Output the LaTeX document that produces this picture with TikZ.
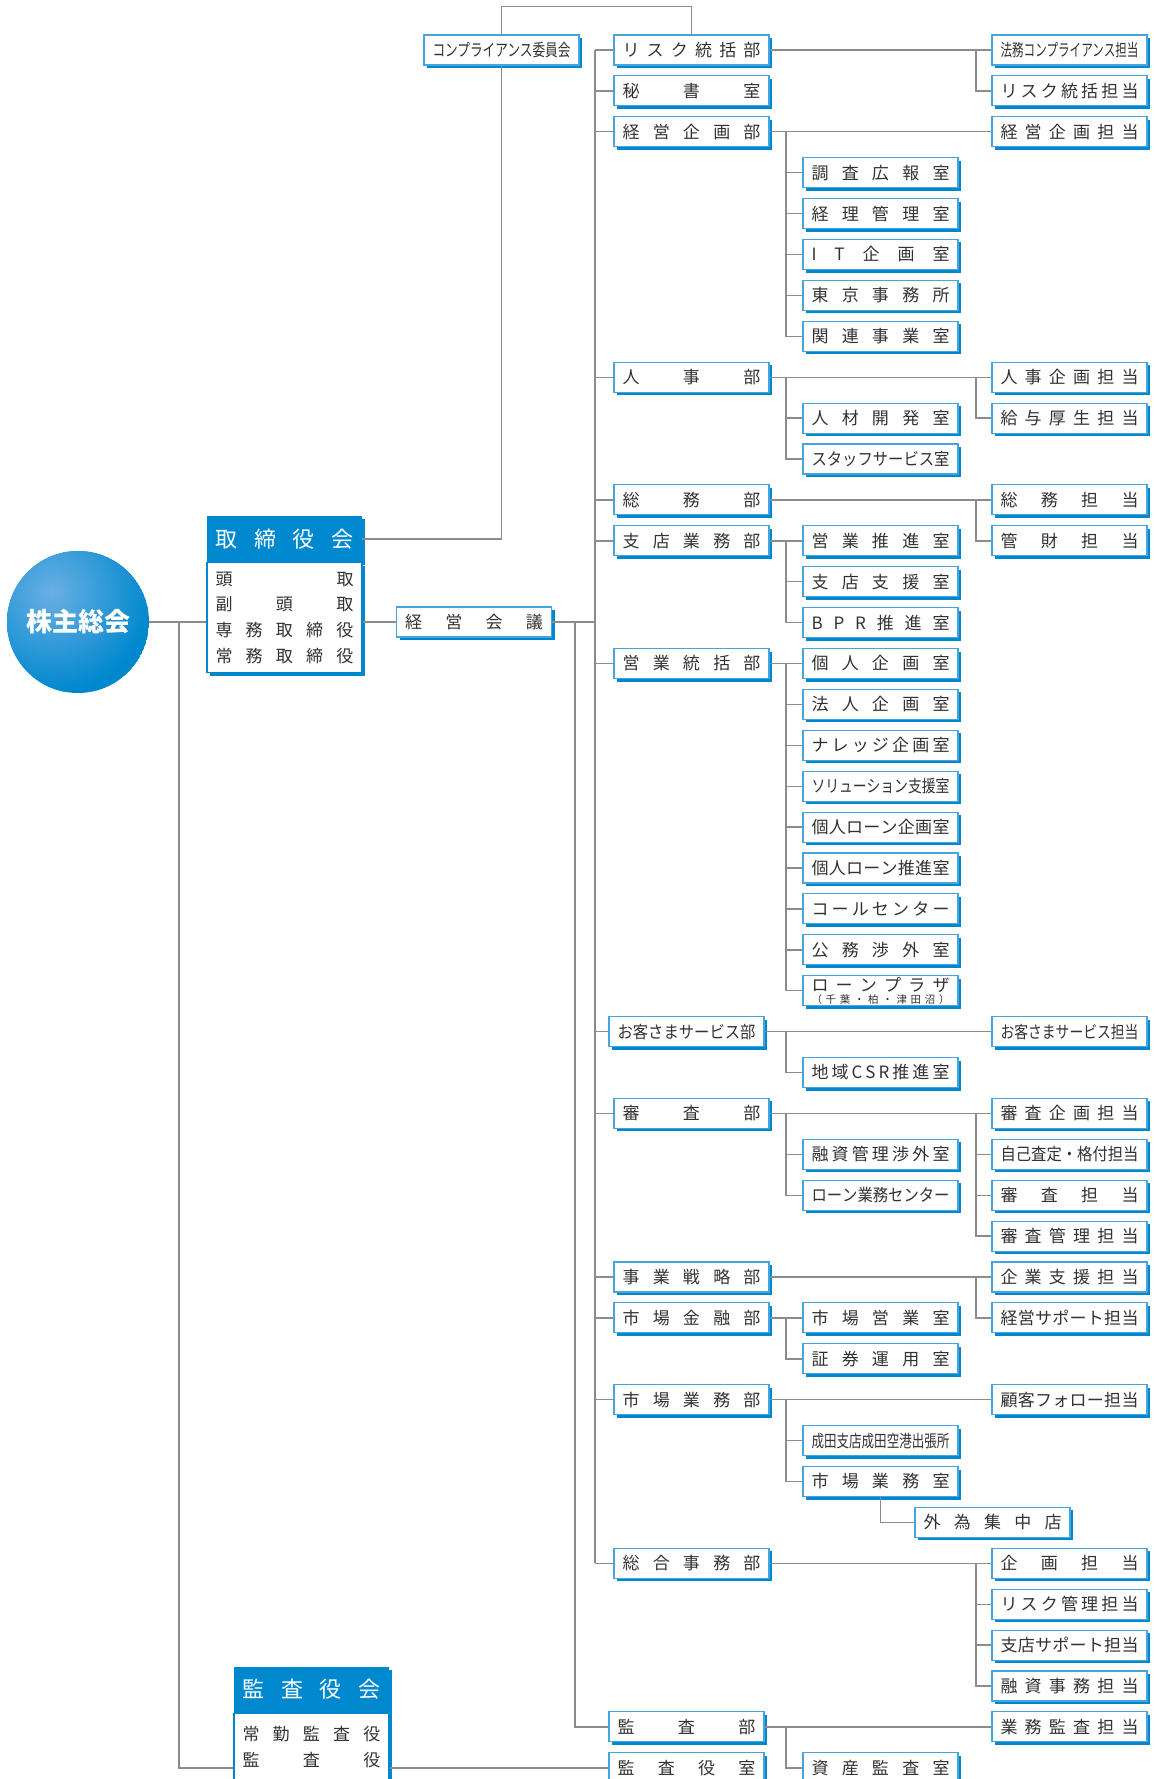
\documentclass[tikz,border=0pt]{standalone}
\usepackage{fontspec}
\setmainfont{Noto Sans CJK JP}
\usepackage{graphicx}
\usetikzlibrary{shadows}

\definecolor{boxblue}{RGB}{0,136,206}
\definecolor{boxline}{RGB}{70,165,225}
\definecolor{linkgray}{RGB}{140,140,140}
\definecolor{textgray}{RGB}{50,50,50}
\definecolor{circlight}{RGB}{105,175,228}

% label set to one width: spread out, or squeezed when too long
\newsavebox{\lblbox}
\newlength{\lblw}
\setlength{\lblw}{138pt}
\newcommand{\boxlbl}[1]{%
  \sbox{\lblbox}{\spaceskip=0pt plus 1fil\relax #1}%
  \ifdim\wd\lblbox>\lblw
    \resizebox{\lblw}{\height}{\usebox{\lblbox}}%
  \else
    \makebox[\lblw][s]{\spaceskip=0pt plus 1fil\relax #1}%
  \fi}

\tikzset{
  unit/.style={draw=boxline, line width=1.1pt, fill=white, minimum width=155pt,
    minimum height=30pt, inner sep=0pt, text=textgray,
    font=\fontsize{17}{17}\selectfont,
    drop shadow={shadow xshift=3pt, shadow yshift=-3pt, fill=boxblue, opacity=1}},
  head/.style={fill=boxblue, minimum width=155pt, minimum height=46pt, inner sep=0pt,
    text=white, font=\fontsize{22}{22}\selectfont,
    drop shadow={shadow xshift=3pt, shadow yshift=-3pt, fill=boxblue, opacity=1}},
  board/.style={draw=boxblue, line width=1.1pt, fill=white, minimum width=155pt,
    inner xsep=0pt, inner ysep=9pt, align=center, text=textgray,
    font=\fontsize{17}{25.7}\selectfont,
    drop shadow={shadow xshift=3pt, shadow yshift=-3pt, fill=boxblue, opacity=1}},
  link/.style={draw=linkgray, line width=1.4pt}
}

\begin{document}
\begin{tikzpicture}[x=1pt, y=-1pt]
  \useasboundingbox (0,0) rectangle (1154,1779);

  % shareholders
  \begin{scope}
    \clip (78,622) circle (71);
    \fill[boxblue] (78,622) circle (71);
    \shade[inner color=circlight, outer color=boxblue] (52,592) circle (100);
  \end{scope}
  \node[circle, minimum size=142pt, inner sep=0pt, text=white,
    font=\fontsize{26}{26}\selectfont\bfseries] (kabu) at (78,622) {株主総会};

  % boards
  \node[head] (torihead) at (284.5,539) {\boxlbl{取 締 役 会}};
  \node[board, anchor=north] (tori) at (torihead.south)
    {\boxlbl{頭 取}\\ \boxlbl{副 頭 取}\\ \boxlbl{専 務 取 締 役}\\ \boxlbl{常 務 取 締 役}};
  \node[head] (kansahead) at (311.5,1689.5) {\boxlbl{監 査 役 会}};
  \node[board, anchor=north, inner ysep=13pt] (kansa) at (kansahead.south)
    {\boxlbl{常 勤 監 査 役}\\ \boxlbl{監 査 役}\\ \mbox{}\\ \mbox{}};

  \node[unit] (kaigi) at (474,622) {\boxlbl{経 営 会 議}};
  \node[unit] (comp) at (501.5,50) {\boxlbl{コンプライアンス委員会}};

  % departments
  \foreach \k/\txt in {0/リ ス ク 統 括 部, 1/秘 書 室, 2/経 営 企 画 部,
      8/人 事 部, 11/総 務 部, 12/支 店 業 務 部, 15/営 業 統 括 部,
      26/審 査 部, 30/事 業 戦 略 部, 31/市 場 金 融 部, 33/市 場 業 務 部,
      37/総 合 事 務 部}{
    \node[unit] (a\k) at (691.5,{50+40.9*\k}) {\boxlbl{\txt}};
  }
  \foreach \k/\txt in {24/お 客 さ ま サ ー ビ ス 部, 41/監 査 部, 42/監 査 役 室}{
    \node[unit] (a\k) at (686.5,{50+40.9*\k}) {\boxlbl{\txt}};
  }

  % offices
  \foreach \k/\txt in {3/調 査 広 報 室, 4/経 理 管 理 室, 5/I T 企 画 室,
      6/東 京 事 務 所, 7/関 連 事 業 室, 9/人 材 開 発 室,
      10/ス タ ッ フ サ ー ビ ス 室, 12/営 業 推 進 室, 13/支 店 支 援 室,
      14/B P R 推 進 室, 15/個 人 企 画 室, 16/法 人 企 画 室,
      17/ナ レ ッ ジ 企 画 室, 18/ソリューション支援室, 19/個 人 ロ ー ン 企 画 室,
      20/個 人 ロ ー ン 推 進 室, 21/コ ー ル セ ン タ ー, 22/公 務 渉 外 室,
      25/地 域 C S R 推 進 室, 27/融 資 管 理 渉 外 室,
      28/ロ ー ン 業 務 セ ン タ ー, 31/市 場 営 業 室, 32/証 券 運 用 室,
      34/成田支店成田空港出張所, 35/市 場 業 務 室, 42/資 産 監 査 室}{
    \node[unit] (b\k) at (880.5,{50+40.9*\k}) {\boxlbl{\txt}};
  }
  \node[unit, align=center] (b23) at (880.5,{50+40.9*23})
    {\boxlbl{ロ ー ン プ ラ ザ}\\[-5pt]{\fontsize{10.5}{10.5}\selectfont\boxlbl{（ 千 葉 ・ 柏 ・ 津 田 沼 ）}}};
  \node[unit] (gai) at (992.5,{50+40.9*36}) {\boxlbl{外 為 集 中 店}};

  % sections
  \foreach \k/\txt in {0/法務コンプライアンス担当, 1/リ ス ク 統 括 担 当,
      2/経 営 企 画 担 当, 8/人 事 企 画 担 当, 9/給 与 厚 生 担 当,
      11/総 務 担 当, 12/管 財 担 当, 24/お客さまサービス担当,
      26/審 査 企 画 担 当, 27/自 己 査 定 ・ 格 付 担 当, 28/審 査 担 当,
      29/審 査 管 理 担 当, 30/企 業 支 援 担 当, 31/経 営 サ ポ ー ト 担 当,
      33/顧 客 フ ォ ロ ー 担 当, 37/企 画 担 当, 38/リ ス ク 管 理 担 当,
      39/支 店 サ ポ ー ト 担 当, 40/融 資 事 務 担 当, 41/業 務 監 査 担 当}{
    \node[unit] (c\k) at (1069.5,{50+40.9*\k}) {\boxlbl{\txt}};
  }

  \coordinate (bus1) at (179,0);
  \coordinate (bus0) at (575,0);
  \coordinate (trunk) at (595,0);
  \coordinate (bus2) at (786,0);
  \coordinate (bus3) at (976,0);

  \draw[link] (kabu.east) -- (kabu.east -| tori.west);
  \draw[link] (kabu.east -| bus1) |- (kansa.west |- a42);
  \draw[link] (kansa.east |- a42) -- (a42.west);
  \draw[link] (kaigi.west -| tori.east) -- (kaigi.west);
  \draw[link] (torihead.east) -| (comp.south);
  \draw[link] (comp.north) -- ++(0,-28) -| (a0.north);
  \draw[link] (kaigi.east) -- (kaigi.east -| trunk);
  \draw[link] (kaigi.east -| bus0) |- (a41.west);
  \draw[link] (a0.west -| trunk) -- (a37.west -| trunk);
  \foreach \k in {0,1,2,8,11,12,15,24,26,30,31,33,37}
    \draw[link] (a\k.west -| trunk) -- (a\k.west);

  \foreach \u/\v in {0/0, 2/2, 8/8, 11/11, 24/24, 26/26, 30/30, 33/33, 37/37, 41/41}
    \draw[link] (a\u.east) -- (c\v.west);
  \foreach \u/\v in {12/12, 15/15, 31/31}
    \draw[link] (a\u.east) -- (b\v.west);
  \foreach \u/\v in {2/3, 2/4, 2/5, 2/6, 2/7, 8/9, 8/10, 12/13, 12/14,
      15/16, 15/17, 15/18, 15/19, 15/20, 15/21, 15/22, 15/23, 24/25,
      26/27, 26/28, 31/32, 33/34, 33/35, 41/42}
    \draw[link] (a\u.east -| bus2) |- (b\v.west);
  \foreach \u/\v in {0/1, 8/9, 11/12, 26/27, 26/28, 26/29, 30/31, 37/38, 37/39, 37/40}
    \draw[link] (a\u.east -| bus3) |- (c\v.west);
  \draw[link] (b35.south) |- (gai.west);
\end{tikzpicture}
\end{document}
